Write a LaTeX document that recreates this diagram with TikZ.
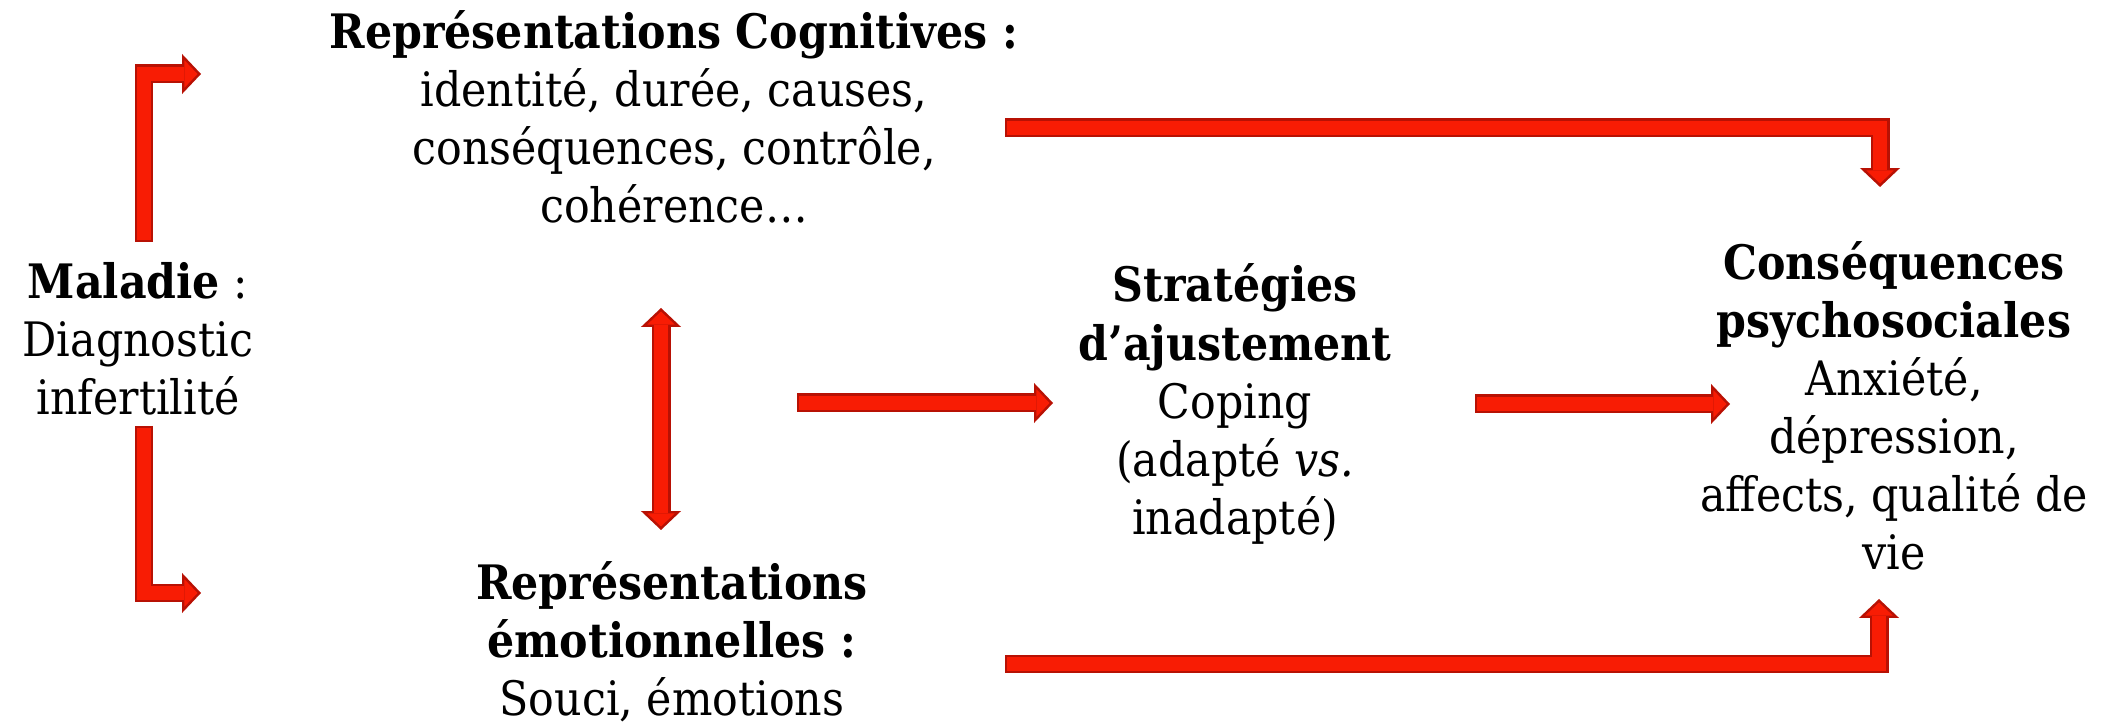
\documentclass[tikz,border=0pt]{standalone}
\usepackage{fontspec}
\setmainfont{DejaVu Serif Condensed}
\usepackage{tikz}
\usetikzlibrary{arrows.meta}

\definecolor{arrowred}{RGB}{248,28,4}
\definecolor{arrowrim}{RGB}{184,17,4}

\begin{document}
\begin{tikzpicture}[x=0.01cm,y=-0.01cm,
    every node/.style={align=center,inner sep=1pt,font=\fontsize{13.5}{16.5}\selectfont},
    fat/.style={draw=arrowrim,line width=5.4pt,line join=miter,
      -{Triangle[length=5.4pt,width=11.4pt,line width=0pt]},
      postaction={draw=arrowred,line width=4pt,shorten <=0.7pt,shorten >=1pt,
        -{Triangle[length=3.7pt,width=7.8pt,line width=0pt]}}},
    fatboth/.style={draw=arrowrim,line width=5.4pt,
      {Triangle[length=5.4pt,width=11.4pt,line width=0pt]}-{Triangle[length=5.4pt,width=11.4pt,line width=0pt]},
      postaction={draw=arrowred,line width=4pt,shorten <=1pt,shorten >=1pt,
        {Triangle[length=3.7pt,width=7.8pt,line width=0pt]}-{Triangle[length=3.7pt,width=7.8pt,line width=0pt]}}}]

  \useasboundingbox (0,0) rectangle (2121,725);

  \node (mal) at (138,339) {\textbf{Maladie} :\\Diagnostic\\infertilité};
  \node (rc) at (674,117) {\textbf{Représentations Cognitives :}\\identité, durée, causes,\\conséquences, contrôle,\\cohérence…};
  \node (re) at (672,642) {\textbf{Représentations}\\\textbf{émotionnelles :}\\Souci, émotions};
  \node (strat) at (1235,404) {\textbf{Stratégies}\\\textbf{d’ajustement}\\Coping\\(adapté \textit{vs.}\\inadapté)};
  \node (cons) at (1894,406) {\textbf{Conséquences}\\\textbf{psychosociales}\\Anxiété,\\dépression,\\affects, qualité de\\vie};

  % ends of the block arrows
  \coordinate (malN) at (144,242);
  \coordinate (rcW) at (201,74);
  \coordinate (malS) at (144,426);
  \coordinate (reW) at (201,593);
  \coordinate (rcS) at (661,308);
  \coordinate (reN) at (661,530);
  \coordinate (repE) at (797,403);
  \coordinate (stratW) at (1053,403);
  \coordinate (stratE) at (1475,404);
  \coordinate (consW) at (1730,404);
  \coordinate (rcE) at (1005,128);
  \coordinate (consN) at (1880,187);
  \coordinate (reE) at (1005,664);
  \coordinate (consS) at (1879,599);

  \draw[fat] (malN) |- (rcW);
  \draw[fat] (malS) |- (reW);
  \draw[fatboth] (rcS) -- (reN);
  \draw[fat] (repE) -- (stratW);
  \draw[fat] (stratE) -- (consW);
  \draw[fat] (rcE) -| (consN);
  \draw[fat] (reE) -| (consS);

\end{tikzpicture}
\end{document}
